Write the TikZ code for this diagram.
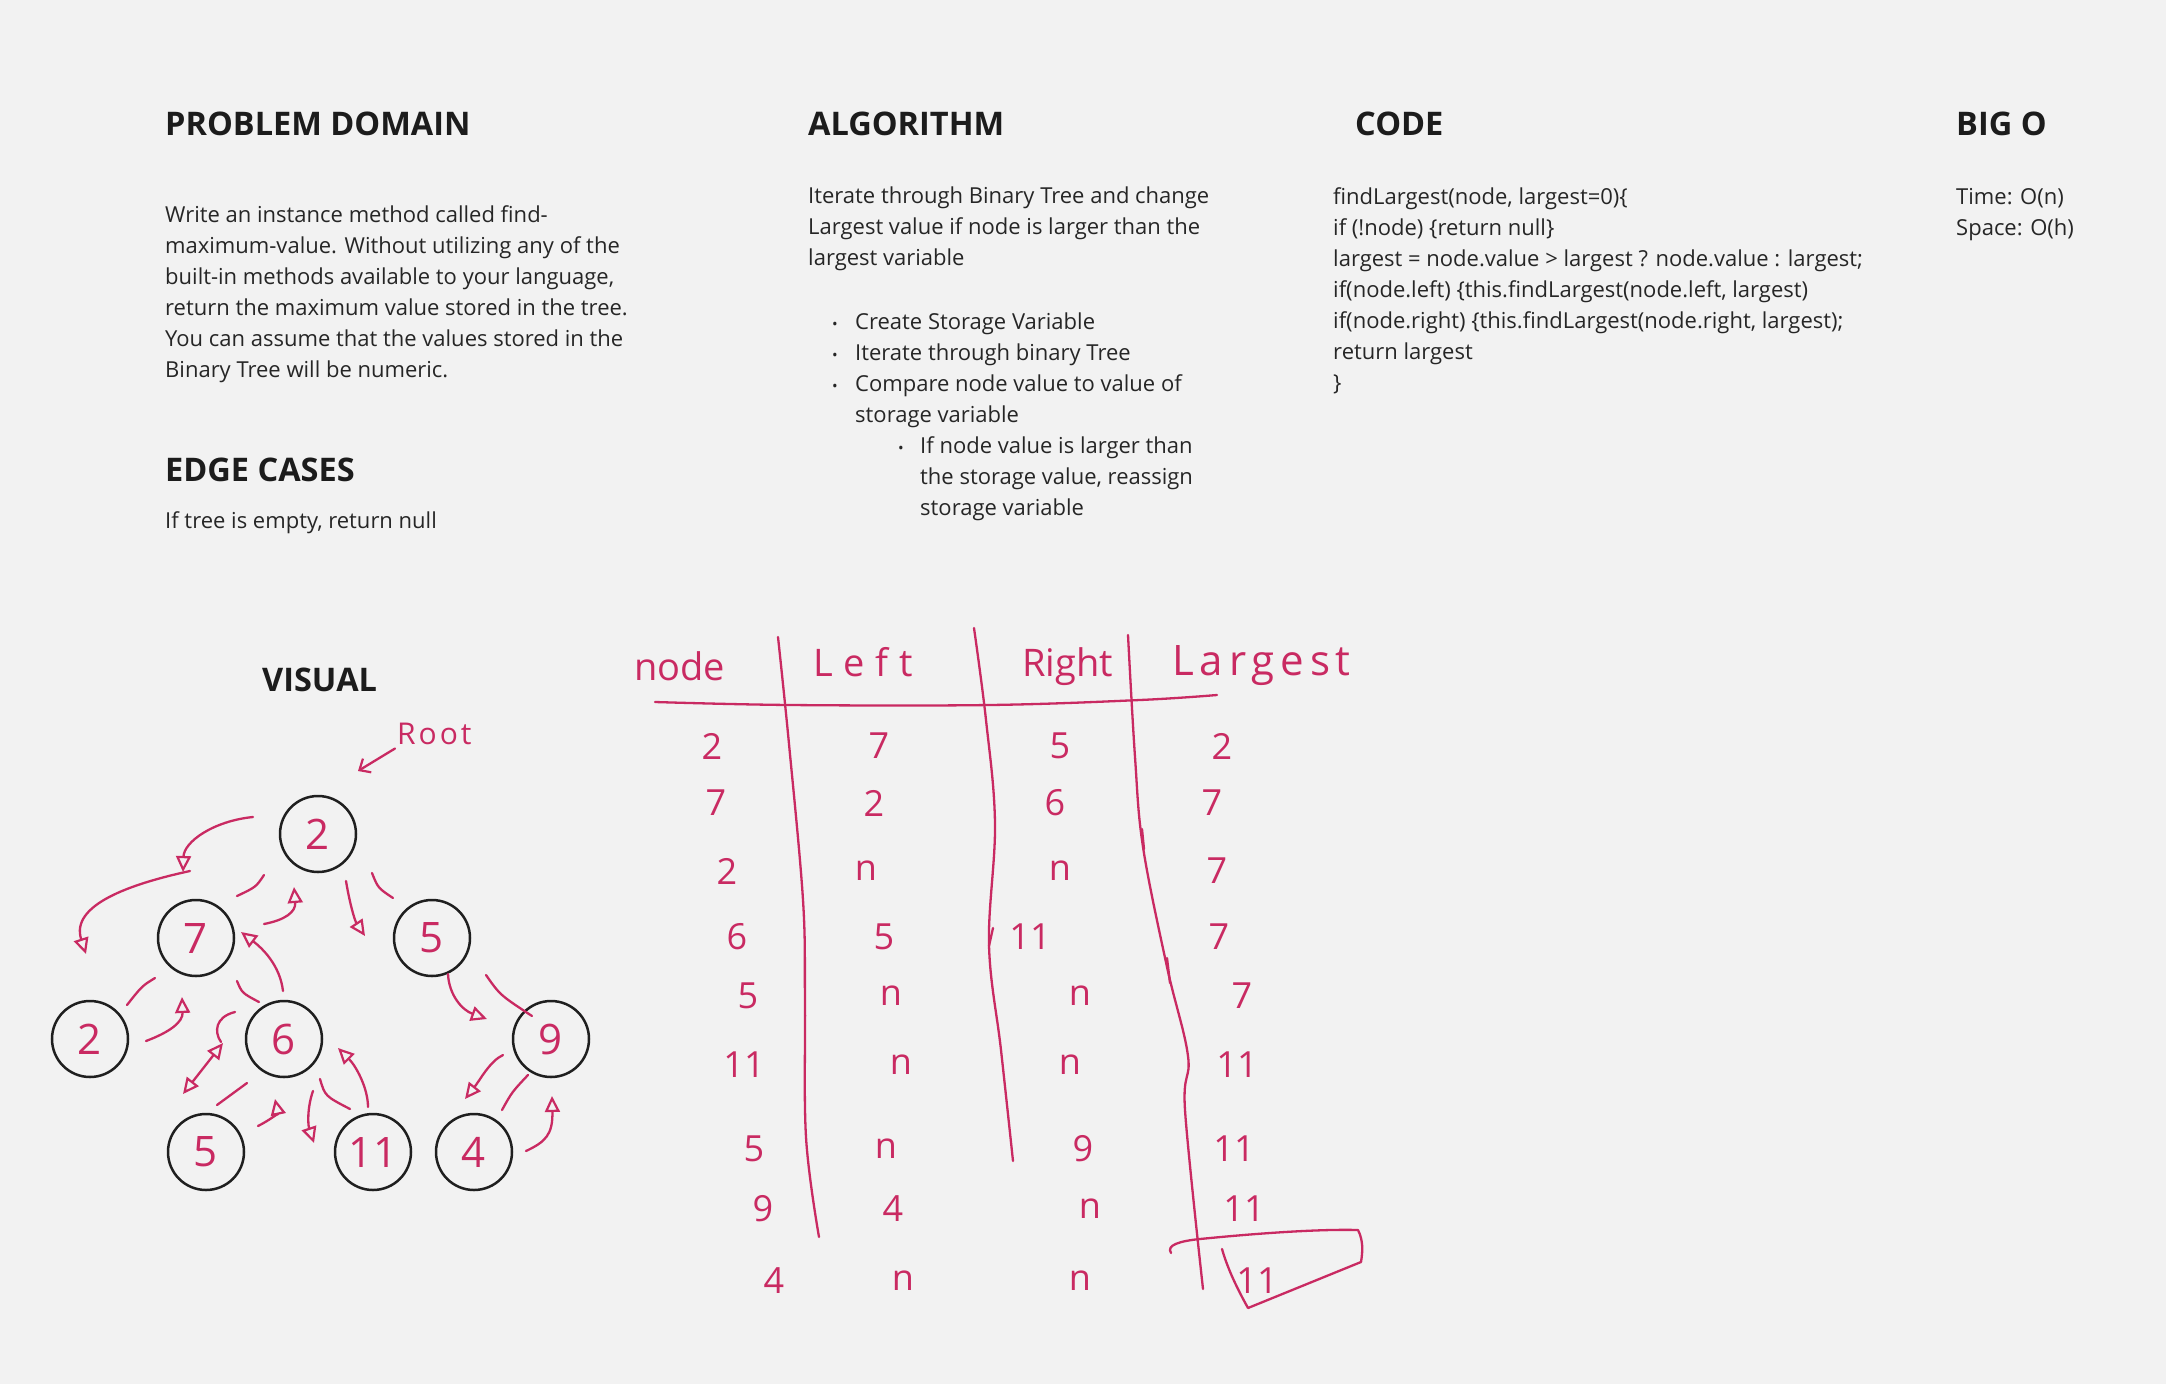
\documentclass[tikz,border=0pt]{standalone}
\usepackage{fontspec}
\setmainfont{Open Sans}
\newfontfamily\hand{Open Sans}
\usetikzlibrary{arrows.meta}
\definecolor{paper}{HTML}{F2F2F2}
\definecolor{ink}{HTML}{262626}
\definecolor{headink}{HTML}{1C1C1C}
\definecolor{pen}{HTML}{C92A62}

\begin{document}
\begin{tikzpicture}[x=1pt,y=-1pt,
  head/.style={anchor=base west, inner sep=0, text=headink,
    font=\fontsize{32.5}{38}\selectfont\bfseries},
  body/.style={anchor=base west, inner sep=0, text=ink,
    font=\fontsize{22}{31}\selectfont},
  dot/.style={anchor=base west, inner sep=0, text=ink,
    font=\fontsize{15}{31}\selectfont},
  hw/.style={inner sep=0, text=pen, font=\hand\fontsize{36}{40}\selectfont},
  hwhead/.style={anchor=base west, inner sep=0, text=pen,
    font=\hand\fontsize{38}{40}\selectfont},
  vert/.style={circle, draw=black!88, line width=2.5pt, minimum size=76pt,
    inner sep=0, text=pen, font=\hand\fontsize{42}{44}\selectfont},
  penline/.style={draw=pen, line width=2.3pt, line cap=round, line join=round},
  opentip/.style={Triangle[open, length=16pt, width=15pt, line width=2.2pt]},
  arw/.style={penline, -{Triangle[open, length=16pt, width=15pt, line width=2.2pt]}},
  dblarw/.style={penline, {Triangle[open, length=16pt, width=15pt, line width=2.2pt]}-{Triangle[open, length=16pt, width=15pt, line width=2.2pt]}},
]
\useasboundingbox[fill=paper] (0,0) rectangle (2166,1384);

% ---------- headings ----------
\node[head] (hpd)  at (165,135) {PROBLEM DOMAIN};
\node[head] (halg) at (808,135) {ALGORITHM};
\node[head] (hcod) at (1355,135) {CODE};
\node[head] (hbig) at (1956,135) {BIG O};
\node[head] (hedg) at (165,481) {EDGE CASES};
\node[head] (hvis) at (262,691) {VISUAL};

% ---------- problem domain ----------
\foreach \txt [count=\i] in {
  {Write an instance method called find-},
  {maximum-value. Without utilizing any of the},
  {built-in methods available to your language,},
  {return the maximum value stored in the tree.},
  {You can assume that the values stored in the},
  {Binary Tree will be numeric.}}
  \node[body] (pd\i) at (165,{222+(\i-1)*31}) {\txt};

\node[body] (edge1) at (165,528) {If tree is empty, return null};

% ---------- algorithm ----------
\node[body] (al1) at (808,203) {Iterate through Binary Tree and change};
\node[body] (al2) at (808,234) {Largest value if node is larger than the};
\node[body] (al3) at (808,265) {largest variable};

\node[dot]  (bu1) at (832,329) {•};
\node[body] (bt1) at (855,329) {Create Storage Variable};
\node[dot]  (bu2) at (832,360) {•};
\node[body] (bt2) at (855,360) {Iterate through binary Tree};
\node[dot]  (bu3) at (832,391) {•};
\node[body] (bt3) at (855,391) {Compare node value to value of};
\node[body] (bt4) at (855,422) {storage variable};
\node[dot]  (bu4) at (898,453) {•};
\node[body] (bs1) at (920,453) {If node value is larger than};
\node[body] (bs2) at (920,484) {the storage value, reassign};
\node[body] (bs3) at (920,515) {storage variable};

% ---------- code ----------
\foreach \txt [count=\i] in {
  {findLargest(node, largest=0)\{},
  {if (!node) \{return null\}},
  {largest = node.value > largest ? node.value : largest;},
  {if(node.left) \{this.findLargest(node.left, largest)},
  {if(node.right) \{this.findLargest(node.right, largest);},
  {return largest},
  {\}}}
  \node[body] (cd\i) at (1333,{204+(\i-1)*31}) {\txt};

% ---------- big O ----------
\node[body] (bo1) at (1956,204) {Time: O(n)};
\node[body] (bo2) at (1956,235) {Space: O(h)};

% ---------- tree ----------
\node[vert] (t2)  at (318,834)  {2};
\node[vert] (t7)  at (196,938)  {7};
\node[vert] (t5)  at (432,938)  {5};
\node[vert] (t2b) at (90,1039)  {2};
\node[vert] (t6)  at (284,1039) {6};
\node[vert] (t9)  at (551,1039) {9};
\node[vert] (t5b) at (206,1152) {5};
\node[vert] (t11) at (373,1152) {11};
\node[vert] (t4)  at (474,1152) {4};

\node[hw, anchor=base west, font=\hand\fontsize{30}{32}\selectfont\addfontfeatures{LetterSpace=10}] (root) at (397,744) {Root};
\draw[penline, -{Straight Barb[length=9pt, width=16pt, line width=2.2pt]}] (root.south west) ++(-2,4) -- (358,771);

% tree edges, drawn as short hand strokes
\draw[penline] (264,875) .. controls (256,887) .. (237,896);
\draw[penline] (372,873) .. controls (378,888) .. (393,898);
\draw[penline] (155,978) .. controls (142,986) .. (127,1005);
\draw[penline] (237,981) .. controls (242,993) .. (259,1002);
\draw[penline] (486,975) .. controls (500,995) .. (532,1016);
\draw[penline] (247,1083) -- (217,1105);
\draw[penline] (320,1079) .. controls (325,1096) .. (350,1109);
\draw[penline] (528,1075) .. controls (512,1092) .. (502,1110);

% traversal arrows
\draw[arw] (253,817) .. controls (213,821) and (184,842) .. (183,872);
\draw[arw] (190,871) .. controls (130,884) and (70,905) .. (86,954);
\draw[arw] (264,924) .. controls (285,920) and (296,912) .. (294,887);
\draw[arw] (283,991) .. controls (280,965) and (262,948) .. (241,932);
\draw[arw] (146,1041) .. controls (170,1032) and (183,1022) .. (182,997);
\draw[penline] (235,1012) .. controls (215,1017) and (214,1032) .. (221,1042);
\draw[dblarw] (223,1043) -- (183,1094);
\draw[arw] (258,1126) .. controls (270,1120) and (278,1113) .. (275,1099);
\draw[arw] (313,1091) .. controls (307,1108) and (308,1125) .. (314,1143);
\draw[arw] (368,1107) .. controls (368,1088) and (356,1066) .. (338,1048);
\draw[arw] (346,881) .. controls (350,905) and (355,921) .. (365,936);
\draw[arw] (448,974) .. controls (449,995) and (462,1010) .. (487,1019);
\draw[arw] (503,1055) .. controls (490,1061) and (480,1080) .. (465,1099);
\draw[arw] (526,1151) .. controls (545,1142) and (553,1135) .. (552,1096);

% ---------- trace table ----------
\node[hwhead] (cnode) at (634,680) {node};
\node[hwhead, font=\hand\fontsize{38}{40}\selectfont\addfontfeatures{LetterSpace=28}] (cleft) at (813,676) {Left};
\node[hwhead] (cright) at (1022,676) {Right};
\node[hwhead, font=\hand\fontsize{42}{44}\selectfont\addfontfeatures{LetterSpace=14}] (clarg) at (1172,675) {Largest};

\draw[penline] plot[smooth, tension=0.6] coordinates {(655,702) (790,705) (990,705) (1140,700) (1217,695)};
\draw[penline] plot[smooth, tension=0.6] coordinates {(778,637) (789,744) (803,900) (805,1000) (806,1137) (819,1237)};
\draw[penline] plot[smooth, tension=0.6] coordinates {(974,628) (986,720) (995,824) (989,945) (1001,1050) (1013,1161)};
\draw[penline] plot[smooth, tension=0.6] coordinates {(1128,635) (1135,757) (1143,847) (1167,967) (1188,1056) (1185,1110) (1203,1289)};
\draw[penline] (1142,829) -- (1144,849);
\draw[penline] (1167,958) -- (1170,983);
\draw[penline] (989,946) -- (993,928);

\foreach \Ry/\Na/\Nx/\La/\Lx/\Ra/\Rx/\Ga/\Gx [count=\i] in {
  746/2/712/7/879/5/1060/2/1222,
  803/7/716/2/874/6/1055/7/1212,
  871/2/727/n/866/n/1060/7/1217,
  937/6/737/5/884/11/1030/7/1219,
  996/5/748/n/891/n/1080/7/1242,
  1065/11/744/n/901/n/1070/11/1237,
  1149/5/754/n/886/9/1083/11/1234,
  1209/9/763/4/893/n/1090/11/1244,
  1281/4/774/n/903/n/1080/11/1257}
{
  \node[hw] (rn\i) at (\Nx,\Ry) {\Na};
  \node[hw] (rl\i) at (\Lx,\Ry) {\La};
  \node[hw] (rr\i) at (\Rx,\Ry) {\Ra};
  \node[hw] (rg\i) at (\Gx,\Ry) {\Ga};
}

% box around the final largest value
\draw[penline] (1171,1253) .. controls (1166,1245) and (1180,1241) .. (1200,1239)
  .. controls (1260,1233) and (1320,1229) .. (1358,1230)
  .. controls (1363,1240) and (1363,1250) .. (1361,1262)
  -- (1248,1308) .. controls (1238,1290) and (1228,1270) .. (1222,1249);

\end{tikzpicture}
\end{document}
